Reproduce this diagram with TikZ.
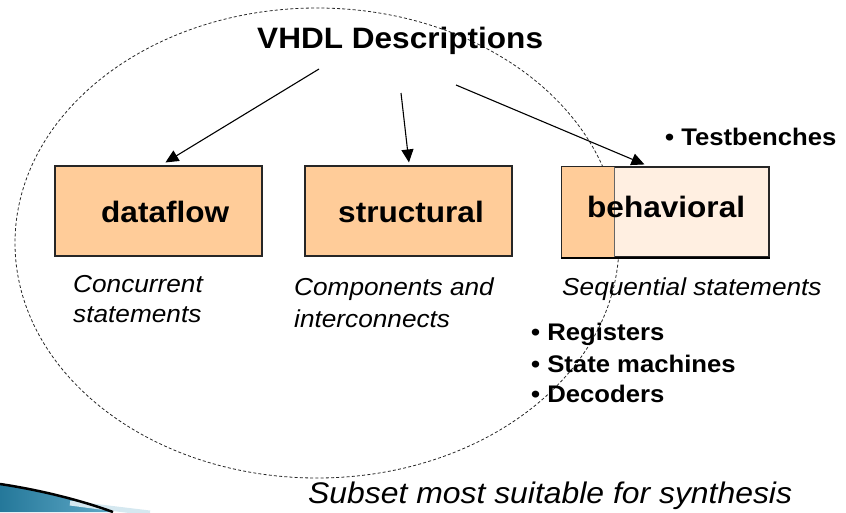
\documentclass[tikz,border=0pt]{standalone}
\usepackage{fontspec}
\setmainfont{Liberation Sans}
\usetikzlibrary{arrows.meta}
\definecolor{boxfill}{HTML}{FFCC99}
\definecolor{boxlight}{HTML}{FFEFE1}
\definecolor{swoosh}{HTML}{2B8DB5}
% Arial-like text set slightly wide
\newcommand\widetext[1]{\scalebox{1.07}[1]{#1}}

\begin{document}
\begin{tikzpicture}[x=1pt,y=-1pt,
  heading/.style={font=\fontsize{29.5}{30}\selectfont\bfseries, inner sep=0pt, anchor=base west},
  note/.style={font=\fontsize{24.5}{25}\selectfont\itshape, inner sep=0pt, anchor=base west},
  item/.style={font=\fontsize{24}{25}\selectfont\bfseries, inner sep=0pt, anchor=base west},
  block/.style={draw=black!85, line width=1.1pt, fill=boxfill, inner sep=0pt,
                minimum width=207pt, minimum height=90pt},
  link/.style={line width=1.1pt, -{Triangle[length=13pt,width=12pt]}},
  region/.style={line width=0.8pt, dash pattern=on 3pt off 2.2pt, black!85},
]
\useasboundingbox (0,0) rectangle (846,512);

% synthesis subset
\draw[region] (317,243) ellipse [x radius=302pt, y radius=235pt];

% corner swoosh
\shade[left color=swoosh!85!black, right color=swoosh!75!white]
  (0,484) .. controls (40,490) and (80,500) .. (113,512) -- (0,512) -- cycle;
\draw[line width=5pt, color=swoosh!20] (70,503) .. controls (100,507) .. (150,513);
\draw[line width=2.5pt] (0,484) .. controls (40,490) and (80,500) .. (113,512);

% description styles
\node[block] (df) at (158.5,211) {};
\node[block] (st) at (408.5,211) {};
\node[block, fill=boxlight] (bh) at (665.5,212) {};
\draw[draw=black!60, fill=boxfill, line width=0.9pt]
  (bh.north west) rectangle ([xshift=53pt]bh.south west);
\draw[line width=1.1pt, draw=black!85] (bh.north west) rectangle (bh.south east);
\draw[line width=2pt] (bh.south west) -- (bh.south east);

\node[heading] (vhdl) at (257,48) {\widetext{VHDL Descriptions}};
\node[heading] (dft) at (101,222) {\widetext{dataflow}};
\node[heading] (stt) at (338,222) {\widetext{structural}};
\node[heading] (bht) at (587,217) {\widetext{behavioral}};

% arrows from the heading
\coordinate (s1) at (319,69);
\coordinate (s2) at (401,93);
\coordinate (s3) at (456,85);
\draw[link] (s1) -- ([xshift=111pt,yshift=3pt]df.north west);
\draw[link] (s2) -- ([xshift=104.5pt,yshift=3pt]st.north west);
\draw[link] (s3) -- ([xshift=83pt,yshift=2pt]bh.north west);

% captions
\node[note] (c1) at (73,292) {\widetext{Concurrent}};
\node[note] (c2) at (73,322) {\widetext{statements}};
\node[note] (c3) at (294,295) {\widetext{Components and}};
\node[note] (c4) at (294,327) {\widetext{interconnects}};
\node[note] (c5) at (562,295) {\widetext{Sequential statements}};

% examples
\node[item] (i0) at (665,145) {\widetext{• Testbenches}};
\node[item] (i1) at (531,340) {\widetext{• Registers}};
\node[item] (i2) at (531,372) {\widetext{• State machines}};
\node[item] (i3) at (531,402) {\widetext{• Decoders}};

\node[note, font=\fontsize{29.8}{30}\selectfont\itshape] (sub) at (308,503)
  {\widetext{Subset most suitable for synthesis}};
\end{tikzpicture}
\end{document}
